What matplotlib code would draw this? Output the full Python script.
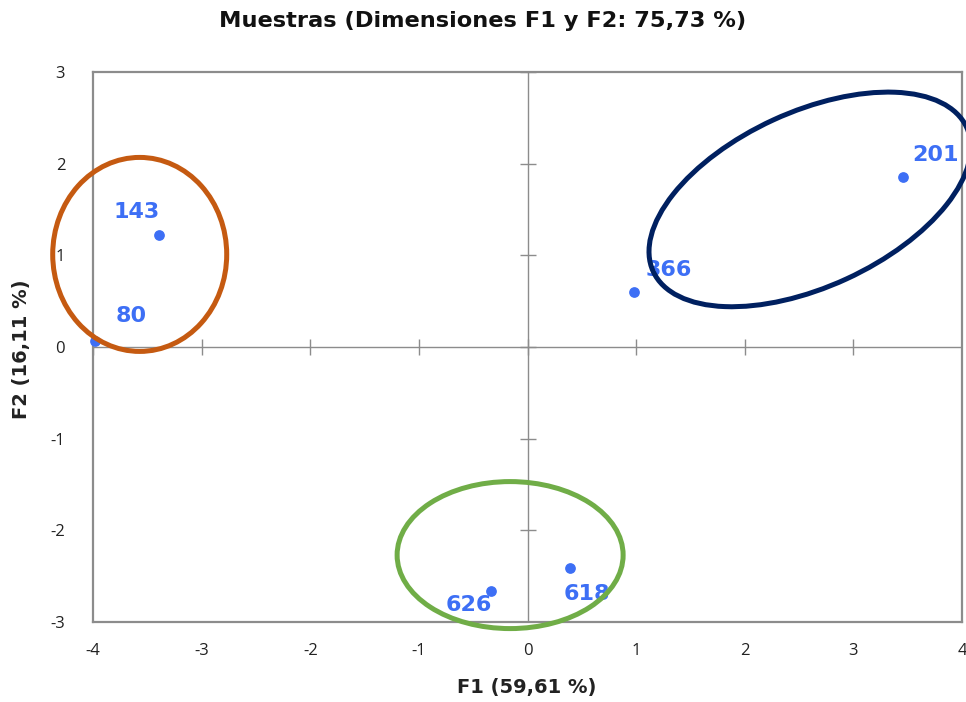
import matplotlib
matplotlib.use("Agg")
import matplotlib.pyplot as plt
from matplotlib.patches import Ellipse
from matplotlib.transforms import ScaledTranslation
import numpy as np

plt.rcParams["axes.unicode_minus"] = False

# data
labels = ["201", "143", "80", "366", "618", "626"]
f1 = [3.46, -3.39, -3.98, 0.98, 0.39, -0.34]
f2 = [1.85, 1.22, 0.07, 0.60, -2.41, -2.66]
xticks = [-4, -3, -2, -1, 0, 1, 2, 3, 4]
yticks = [-3, -2, -1, 0, 1, 2, 3]

# label offsets in points (layout)
offsets = {"201": (23, 16), "143": (-16, 17), "80": (26, 18), "366": (25, 16),
           "618": (12, -19), "626": (-16, -10)}

fig = plt.figure(figsize=(9.66, 7.02), dpi=100)
ax = fig.add_axes([93/966, 1-622/702, (962-93)/966, (622-72)/702])
ax.set_xlim(-4, 4)
ax.set_ylim(-3, 3)

gray = "#8c8c8c"
for s in ax.spines.values():
    s.set_color(gray)
    s.set_linewidth(1.6)

ax.set_xticks(xticks)
ax.set_yticks(yticks)
ax.tick_params(length=0, labelsize=12, labelcolor="#222222", pad=15)
ax.tick_params(axis="y", pad=20)
for t in ax.get_xticklabels() + ax.get_yticklabels():
    t.set_family("Open Sans")

# center axes with cross ticks
ax.axhline(0, color=gray, lw=1.0, zorder=1)
ax.axvline(0, color=gray, lw=1.0, zorder=1)
ax.plot(xticks, [0]*len(xticks), linestyle="none", marker="|", ms=11, mew=1.0, color=gray, zorder=1)
ax.plot([0]*len(yticks), yticks, linestyle="none", marker="_", ms=11, mew=1.0, color=gray, zorder=1)

blue = "#3d6ff5"
ax.scatter(f1, f2, s=45, color=blue, zorder=3, clip_on=False)
for lab, x, y in zip(labels, f1, f2):
    dx, dy = offsets[lab]
    ax.annotate(lab, (x, y), xytext=(dx, dy), textcoords="offset points",
                ha="center", va="center", color=blue, fontsize=16,
                fontweight="bold", family="DejaVu Sans", zorder=4)

# group ellipses (sizes in inches, centred on data points)
ellipses = [
    ((-3.57, 1.01), 1.74, 1.94, 0, "#c55a11"),
    ((-0.16, -2.27), 2.26, 1.47, 0, "#70ad47"),
    ((2.60, 1.61), 3.45, 1.75, 24.7, "#002060"),
]
for (cx, cy), w, h, ang, col in ellipses:
    tr = fig.dpi_scale_trans + ScaledTranslation(cx, cy, ax.transData)
    e = Ellipse((0, 0), w, h, angle=ang, fill=False, edgecolor=col, lw=3.6,
                transform=tr, clip_on=False, zorder=5)
    ax.add_patch(e)

fig.text(483/966, 1-21/702, "Muestras (Dimensiones F1 y F2: 75,73 %)", ha="center", va="center",
         fontsize=16.2, fontweight="bold", family="DejaVu Sans", color="#111111")
fig.text(527/966, 1-688/702, "F1 (59,61 %)", ha="center", va="center",
         fontsize=14, fontweight="bold", family="DejaVu Sans", color="#222222")
fig.text(22/966, 1-349/702, "F2 (16,11 %)", ha="center", va="center", rotation=90,
         fontsize=14, fontweight="bold", family="DejaVu Sans", color="#222222")

fig.savefig("out.png", dpi=100)
